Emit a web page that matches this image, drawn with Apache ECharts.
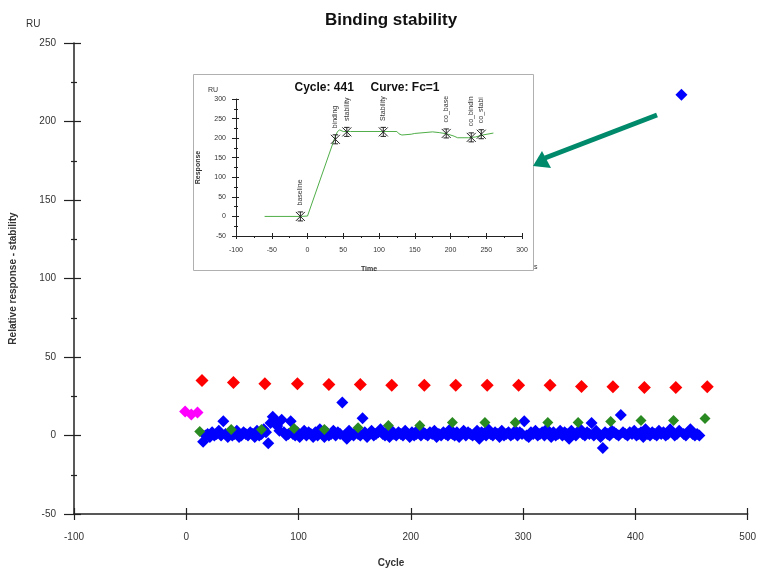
<!DOCTYPE html>
<html>
<head>
<meta charset="utf-8">
<script src="https://cdn.jsdelivr.net/npm/echarts@6/dist/echarts.min.js"></script>
<style>
  html, body { margin: 0; padding: 0; background: #fff; }
  #chart { width: 759px; height: 569px; }
</style>
</head>
<body>
<div id="chart"></div>
<script>
// ---------- main chart data ----------
const blueStartCycle = 15;
const blueCycleStep = 2;
const blueValues = [
  -4, 0, 1, -1, 2, 0, 1, 3, 0, 9,
  1, -1, 2, 0, 1, 3, -1, 0, 2, 1,
  0, 2, 1, -1, 3, 0, 1, 4, 2, -5,
  8, 12, 10, 6, 3, 10, 2, 0, 1, 9,
  1, 0, 2, -1, 1, 3, 0, 2, 1, -1,
  2, 0, 4, 1, -1, 2, 0, 1, 3, 0,
  2, 1, 21, 0, -2, 3, 1, 0, 2, 1,
  0, 11, 2, -1, 1, 3, 0, 1, 2, 4,
  1, 0, 2, -1, 3, 1, 0, 2, 1, 0,
  3, 1, -1, 2, 0, 1, 4, 0, 2, 1,
  0, 2, 1, 3, -1, 1, 0, 2, 1, 0,
  4, 1, 0, 2, -1, 1, 3, 0, 2, 1,
  0, 1, 3, -2, 2, 1, 0, 4, 1, 0,
  2, 1, -1, 3, 0, 1, 2, 0, 1, 3,
  0, 2, 1, 9, 0, -1, 2, 1, 3, 0,
  1, 2, 0, 4, 1, -1, 2, 0, 1, 3,
  0, 2, 1, -2, 3, 1, 0, 2, 4, 1,
  0, 2, 1, 8, 0, 3, 1, -1, -8, 2,
  1, 0, 3, 2, 1, 0, 13, 2, 1, 0,
  2, 1, 3, 0, 1, 2, -1, 4, 1, 0,
  2, 1, 0, 3, 1, 2, 0, 1, 4, 2,
  0, 1, 3, 217, 1, 0, 2, 4, 1, 0,
  1, 0
];
const redCycles = [14, 42, 70, 99, 127, 155, 183, 212, 240, 268, 296, 324, 352, 380, 408, 436, 464];
const redValues = [35, 33.8, 33, 33, 32.5, 32.5, 32, 32, 32, 32, 32, 32, 31.2, 31, 30.6, 30.6, 31];
const greenCycles = [12, 40, 67, 96, 123, 153, 180, 208, 237, 266, 293, 322, 349, 378, 405, 434, 462];
const greenValues = [2.5, 3.8, 3.8, 4.5, 3.8, 5, 6.4, 6.4, 8.3, 8.3, 8.3, 8.3, 8.3, 8.9, 9.5, 9.5, 10.8];
const magentaCycles = [-1, 4.5, 10];
const magentaValues = [15.3, 13.4, 14.6];

// ---------- inset data ----------
const insetTime = [-60, -10, 0, 38, 42, 45, 50, 60, 125, 128, 132, 145, 150, 175, 185, 195, 205, 210, 225, 235, 245, 260];
const insetResp = [0, 0, 1, 200, 217, 221, 217, 217, 217, 211, 208, 210, 212, 216, 214, 211, 205, 201, 201, 203, 208, 213];
const markerNames = ['baseline', 'binding', 'stability', 'Stability', 'co_base', 'co_bindin', 'co_stabi'];
const markerTimes = [-10, 39, 55, 106, 194, 229, 243];
const markerResp = [0, 197, 216, 216, 212, 202, 210];

const insetTitle = 'Cycle: 441     Curve: Fc=1';

// ---------- build ----------
const bluePoints = blueValues.map((v, i) => [blueStartCycle + i * blueCycleStep, v]);
const redPoints = redCycles.map((c, i) => [c, redValues[i]]);
const greenPoints = greenCycles.map((c, i) => [c, greenValues[i]]);
const magentaPoints = magentaCycles.map((c, i) => [c, magentaValues[i]]);
const insetLine = insetTime.map((t, i) => [t, insetResp[i]]);
const markers = markerTimes.map((t, i) => ({ value: [t, markerResp[i]], name: markerNames[i] }));

const FONT = 'Liberation Sans, Arial, sans-serif';
const axisCol = '#222';

function mainAxisCommon(min, max, interval) {
  return { type: 'value', min, max, interval, splitLine: { show: false } };
}

const chart = echarts.init(document.getElementById('chart'), null, { renderer: 'canvas' });
const option = {
  backgroundColor: '#fff',
  animation: false,
  textStyle: { fontFamily: FONT },
  title: [
    { text: 'Binding stability', left: 386, top: 7, textAlign: 'center',
      textStyle: { fontSize: 17, fontWeight: 'bold', color: '#111', fontFamily: FONT } },
    { text: 'RU', left: 21, top: 14, textStyle: { fontSize: 10, fontWeight: 'normal', color: '#333', fontFamily: FONT } },
    { text: 'Cycle', left: 386, top: 553, textAlign: 'center',
      textStyle: { fontSize: 10, fontWeight: 'bold', color: '#333', fontFamily: FONT } },
    { text: insetTitle, left: 362, top: 77, textAlign: 'center',
      textStyle: { fontSize: 12, fontWeight: 'bold', color: '#111', fontFamily: FONT, whiteSpace: 'pre' } },
    { text: 'RU', left: 203, top: 82, textStyle: { fontSize: 7, fontWeight: 'normal', color: '#333', fontFamily: FONT } },
    { text: 'Time', left: 364, top: 261, textAlign: 'center',
      textStyle: { fontSize: 7, fontWeight: 'bold', color: '#333', fontFamily: FONT } },
    { text: 's', left: 529, top: 259, textStyle: { fontSize: 7, fontWeight: 'normal', color: '#333', fontFamily: FONT } }
  ],
  grid: [
    { left: 74, right: 9, top: 43, bottom: 55 },
    { left: 236, top: 99, width: 286, height: 137 }
  ],
  xAxis: [
    Object.assign(mainAxisCommon(-100, 500, 100), {
      gridIndex: 0, position: 'bottom',
      axisLine: { onZero: false, lineStyle: { color: axisCol, width: 1.5 } },
      axisTick: { show: true, length: 6, lineStyle: { color: axisCol, width: 1.2 } },
      axisLabel: { fontSize: 10, color: '#333', margin: 18, fontFamily: FONT }
    }),
    Object.assign(mainAxisCommon(-100, 500, 100), {
      gridIndex: 0, position: 'bottom', offset: 0,
      axisLine: { show: false, onZero: false },
      axisTick: { show: true, inside: true, length: 6, lineStyle: { color: axisCol, width: 1.2 } },
      axisLabel: { show: false }
    }),
    Object.assign(mainAxisCommon(-100, 300, 50), {
      gridIndex: 1, position: 'bottom',
      axisLine: { onZero: false, lineStyle: { color: axisCol, width: 1 } },
      axisTick: { show: true, length: 3, lineStyle: { color: axisCol } },
      minorTick: { show: true, splitNumber: 2, length: 2, lineStyle: { color: axisCol } },
      axisLabel: { fontSize: 7, color: '#333', margin: 11, fontFamily: FONT }
    }),
    Object.assign(mainAxisCommon(-100, 300, 50), {
      gridIndex: 1, position: 'bottom', offset: 0,
      axisLine: { show: false, onZero: false },
      axisTick: { show: true, inside: true, length: 3, lineStyle: { color: axisCol } },
      minorTick: { show: false },
      axisLabel: { show: false }
    })
  ],
  yAxis: [
    Object.assign(mainAxisCommon(-50, 250, 50), {
      gridIndex: 0, position: 'left',
      name: 'Relative response - stability', nameLocation: 'middle', nameGap: 56,
      nameTextStyle: { fontSize: 10, fontWeight: 'bold', color: '#333', fontFamily: FONT },
      axisLine: { onZero: false, lineStyle: { color: axisCol, width: 1.5 } },
      axisTick: { show: true, length: 10, lineStyle: { color: axisCol, width: 1.2 } },
      minorTick: { show: true, splitNumber: 2, length: 3, lineStyle: { color: axisCol, width: 1.2 } },
      axisLabel: { fontSize: 10, color: '#333', margin: 18, fontFamily: FONT }
    }),
    Object.assign(mainAxisCommon(-50, 250, 50), {
      gridIndex: 0, position: 'left', offset: 0,
      axisLine: { show: false, onZero: false },
      axisTick: { show: true, inside: true, length: 7, lineStyle: { color: axisCol, width: 1.2 } },
      minorTick: { show: true, splitNumber: 2, length: 3, lineStyle: { color: axisCol, width: 1.2 } },
      axisLabel: { show: false }
    }),
    Object.assign(mainAxisCommon(-50, 300, 50), {
      gridIndex: 1, position: 'left',
      name: 'Response', nameLocation: 'middle', nameGap: 34,
      nameTextStyle: { fontSize: 7, fontWeight: 'bold', color: '#333', fontFamily: FONT },
      axisLine: { onZero: false, lineStyle: { color: axisCol, width: 1 } },
      axisTick: { show: true, length: 4, lineStyle: { color: axisCol } },
      minorTick: { show: true, splitNumber: 2, length: 2, lineStyle: { color: axisCol } },
      axisLabel: { fontSize: 7, color: '#333', margin: 10, fontFamily: FONT }
    }),
    Object.assign(mainAxisCommon(-50, 300, 50), {
      gridIndex: 1, position: 'left', offset: 0,
      axisLine: { show: false, onZero: false },
      axisTick: { show: true, inside: true, length: 3, lineStyle: { color: axisCol } },
      minorTick: { show: true, splitNumber: 2, length: 2, lineStyle: { color: axisCol } },
      axisLabel: { show: false }
    })
  ],
  graphic: [
    { type: 'rect', shape: { x: 193.5, y: 74.5, width: 340, height: 196 }, silent: true,
      style: { fill: 'none', stroke: '#b0b0b0', lineWidth: 1 } },
    { type: 'line', shape: { x1: 657, y1: 115, x2: 545, y2: 158 }, silent: true,
      style: { stroke: '#008a6c', lineWidth: 5 } },
    { type: 'polygon', shape: { points: [[533, 166], [542, 151], [551, 168]] }, silent: true,
      style: { fill: '#008a6c' } }
  ],
  series: [
    {
      type: 'scatter', xAxisIndex: 0, yAxisIndex: 0, symbol: 'diamond', symbolSize: 12,
      itemStyle: { color: '#0000ff', opacity: 1 }, data: bluePoints, z: 2
    },
    {
      type: 'scatter', xAxisIndex: 0, yAxisIndex: 0, symbol: 'diamond', symbolSize: 11,
      itemStyle: { color: '#2a8a22', opacity: 1 }, data: greenPoints, z: 3
    },
    {
      type: 'scatter', xAxisIndex: 0, yAxisIndex: 0, symbol: 'diamond', symbolSize: 13,
      itemStyle: { color: '#ff0000', opacity: 1 }, data: redPoints, z: 3
    },
    {
      type: 'scatter', xAxisIndex: 0, yAxisIndex: 0, symbol: 'diamond', symbolSize: 12,
      itemStyle: { color: '#ff00ff', opacity: 1 }, data: magentaPoints, z: 3
    },
    {
      type: 'line', xAxisIndex: 2, yAxisIndex: 2, data: insetLine, showSymbol: false,
      lineStyle: { color: '#4fae48', width: 1 }, z: 2
    },
    {
      type: 'scatter', xAxisIndex: 2, yAxisIndex: 2, data: markers,
      symbol: 'path://M0,0L10,10M10,0L0,10M2,0L8,0M2,10L8,10M5,0L5,10',
      symbolSize: 9,
      itemStyle: { color: 'none', borderColor: '#222', borderWidth: 1, opacity: 1 },
      label: {
        show: true, position: 'top', distance: 4, rotate: 90, align: 'left', verticalAlign: 'middle',
        formatter: p => p.name, fontSize: 7, color: '#333', fontFamily: FONT
      },
      z: 3
    }
  ]
};
chart.setOption(option);
</script>
</body>
</html>
